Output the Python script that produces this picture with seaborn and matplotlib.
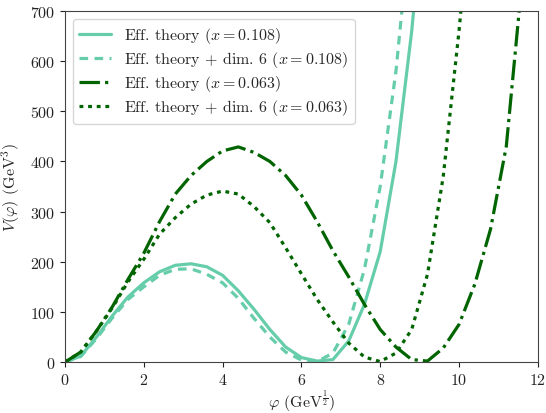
"""
Effective potential V(phi) for two values of x, with and without dim. 6 term
"""
import numpy as np
import pandas as pd
import matplotlib
matplotlib.use("Agg")
import matplotlib.pyplot as plt
import seaborn as sns

# field values (GeV^1/2) on which the potentials were sampled
phi = [0.0, 0.4, 0.8, 1.2, 1.6, 2.0, 2.4, 2.8, 3.2, 3.6, 4.0, 4.4, 4.8, 5.2, 5.6,
       6.0, 6.4, 6.8, 7.2, 7.6, 8.0, 8.4, 8.8, 9.2, 9.6, 10.0, 10.4, 10.8, 11.2, 11.6]

# V(phi) in GeV^3
v_eff_108 = [0, 12, 50, 92, 130, 158, 180, 193, 196, 190, 173, 142, 105, 65, 30,
             9, 2, 5, 42, 115, 220, 400, 660, 1000]
v_dim6_108 = [0, 11, 47, 88, 125, 150, 173, 185, 186, 175, 158, 127, 87, 50, 20,
              4, 1, 18, 75, 185, 350, 580, 900]
v_eff_063 = [0, 20, 62, 110, 165, 217, 280, 335, 372, 400, 421, 429, 418, 400, 372,
             333, 280, 222, 170, 115, 65, 30, 5, 2, 28, 75, 155, 265, 430, 760]
v_dim6_063 = [0, 20, 62, 108, 160, 205, 255, 288, 315, 333, 341, 335, 310, 278, 228,
              176, 125, 80, 38, 10, 1, 18, 65, 175, 370, 660, 1000]

labels = [r"Eff. theory ($x=0.108$)",
          r"Eff. theory + dim. 6 ($x=0.108$)",
          r"Eff. theory ($x=0.063$)",
          r"Eff. theory + dim. 6 ($x=0.063$)"]
colors = ["mediumaquamarine", "mediumaquamarine", "darkgreen", "darkgreen"]
dashes = [(None, None), (2.7, 2.0), (6.4, 1.6, 1.0, 1.6), (1.2, 1.5)]

sns.set_style("ticks")
plt.rcParams["font.family"] = "serif"
plt.rcParams["font.serif"] = ["cmr10"]
plt.rcParams["mathtext.fontset"] = "cm"
plt.rcParams["axes.formatter.use_mathtext"] = True
plt.rcParams["font.size"] = 11.5

fig = plt.figure(figsize=(5.46, 4.14), dpi=100)
ax = fig.add_axes([0.119, 0.123, 0.866, 0.848])

series = [v_eff_108, v_dim6_108, v_eff_063, v_dim6_063]
for vals, lab, col, dsh in zip(series, labels, colors, dashes):
    df = pd.DataFrame({"phi": phi[:len(vals)], "V": vals})
    line = sns.lineplot(data=df, x="phi", y="V", ax=ax, color=col,
                        linewidth=2.3, label=lab, sort=False).lines[-1]
    if dsh[0] is not None:
        line.set_dashes(dsh)

ax.set_xlim(0, 12)
ax.set_ylim(0, 700)
ax.set_xticks([0, 2, 4, 6, 8, 10, 12])
ax.set_yticks(np.arange(0, 701, 100))
ax.set_xlabel(r"$\varphi$ (GeV$^{\frac{1}{2}}$)", labelpad=1)
ax.set_ylabel(r"$V(\varphi)$ (GeV$^3$)", labelpad=6)
for sp in ax.spines.values():
    sp.set_color("#444444")
ax.tick_params(colors="#222222", direction="out")
ax.legend(loc="upper left", fontsize=11.5, frameon=True, labelspacing=0.25)

fig.savefig("out.png", dpi=100)
